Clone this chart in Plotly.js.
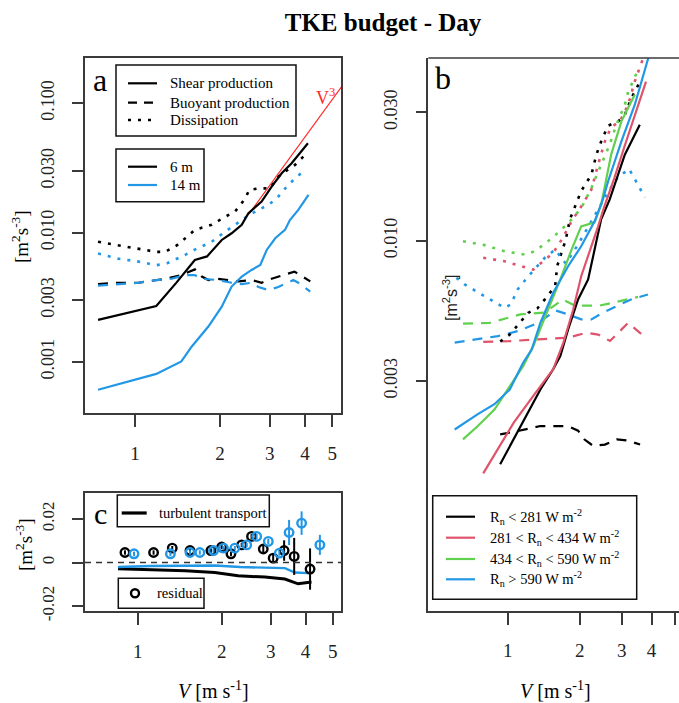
<!DOCTYPE html>
<html><head><meta charset="utf-8">
<script src="https://cdn.plot.ly/plotly-3.0.1.min.js"></script>
<style>html,body{margin:0;padding:0;background:#fff;overflow:hidden}</style>
</head><body><div id="chart" style="width:679px;height:703px"></div>
<script>
// ---------- Panel a : 6 m and 14 m budget terms ----------
const a_shear6_V  = [0.74,1.19,1.40,1.63,1.80,2.03,2.20,2.39,2.52,2.81,3.05,3.31,3.59,4.10];
const a_shear6    = [0.00212,0.00271,0.00409,0.00615,0.00655,0.00878,0.00989,0.0115,0.0141,0.0174,0.0227,0.0288,0.0344,0.0491];
const a_shear14_V = [0.74,1.19,1.46,1.59,1.82,2.03,2.20,2.39,2.59,2.78,2.93,3.14,3.40,3.54,3.79,4.12];
const a_shear14   = [0.00061,0.00081,0.00101,0.00132,0.00188,0.00268,0.00383,0.00457,0.00515,0.00563,0.00735,0.00905,0.0105,0.0125,0.0150,0.0196];
const a_buoy6_V   = [0.74,0.87,1.03,1.19,1.28,1.46,1.63,1.72,1.82,1.97,2.14,2.33,2.59,2.81,3.05,3.27,3.67,3.85,4.18];
const a_buoy6     = [0.0040,0.0041,0.0041,0.0043,0.0044,0.0047,0.0052,0.0046,0.0043,0.0044,0.0043,0.0042,0.0043,0.0041,0.0044,0.0046,0.0050,0.0047,0.0042];
const a_buoy14_V  = [0.74,0.87,1.03,1.19,1.35,1.50,1.63,1.72,1.97,2.20,2.39,2.59,2.74,2.97,3.22,3.64,3.79,4.18];
const a_buoy14    = [0.0039,0.0040,0.0041,0.0043,0.0044,0.0047,0.0047,0.0044,0.0043,0.0041,0.0040,0.0041,0.0038,0.0036,0.0038,0.0043,0.0041,0.0035];
const a_diss6_V   = [0.74,0.87,1.01,1.19,1.28,1.41,1.53,1.63,1.87,2.09,2.26,2.46,2.54,2.74,3.01,3.22,3.40,3.69,3.95];
const a_diss6     = [0.0085,0.0080,0.0076,0.0071,0.0071,0.0080,0.0093,0.0105,0.0115,0.0133,0.0145,0.0184,0.0214,0.0220,0.0220,0.0271,0.0296,0.0334,0.0387];
const a_diss14_V  = [0.74,0.87,1.02,1.19,1.30,1.50,1.63,1.87,2.09,2.26,2.49,2.74,2.97,3.18,3.45,3.69,3.90];
const a_diss14    = [0.0069,0.0063,0.0060,0.0056,0.0058,0.0067,0.0074,0.0085,0.0102,0.0115,0.0133,0.0150,0.0164,0.0184,0.0227,0.0263,0.0291];
const a_v3_V      = [2.52,5.40];
const a_v3        = [0.0137,0.1345];

// ---------- Panel b : net radiation classes (black, red, green, blue) ----------
const b_shear_V = [
  [0.93,1.13,1.37,1.55,1.66,1.79,1.97,2.17,2.31,2.46,2.67,2.80,3.09,3.57],
  [0.79,1.06,1.28,1.55,1.71,1.88,2.03,2.17,2.39,2.53,2.80,3.09,3.40,3.79],
  [0.65,0.75,0.88,1.00,1.16,1.28,1.46,1.66,1.85,2.03,2.31,2.46,2.71,2.99,3.40],
  [0.60,0.75,0.88,1.02,1.16,1.26,1.37,1.55,1.79,2.03,2.31,2.50,2.63,2.99,3.40,3.94]];
const b_shear = [
  [0.00147,0.00204,0.00279,0.00332,0.00372,0.00467,0.00604,0.00717,0.00926,0.0120,0.0142,0.0162,0.0209,0.0270],
  [0.00136,0.00210,0.00264,0.00332,0.00417,0.00554,0.00737,0.00875,0.0113,0.0133,0.0172,0.0226,0.0292,0.0391],
  [0.00182,0.00204,0.00235,0.00279,0.00341,0.00405,0.00539,0.00717,0.00926,0.0113,0.0117,0.0136,0.0209,0.0278,0.0349],
  [0.00198,0.00226,0.00246,0.00279,0.00351,0.00393,0.00494,0.00639,0.00803,0.00953,0.0118,0.0142,0.0166,0.0234,0.0320,0.0504]];
const b_buoy_V = [
  [0.93,1.09,1.37,1.79,1.97,2.09,2.28,2.55,2.86,3.19,3.58],
  [0.79,1.00,1.34,1.79,2.13,2.39,2.68,3.19,3.81],
  [0.65,0.84,1.13,1.43,1.70,1.91,2.43,2.95,3.51],
  [0.60,0.75,0.91,1.10,1.34,1.59,1.79,2.03,2.24,2.50,2.84,3.28,3.86]];
const b_buoy = [
  [0.00190,0.00195,0.00204,0.00204,0.00196,0.00182,0.00172,0.00174,0.00182,0.00180,0.00174],
  [0.00420,0.00422,0.00429,0.00435,0.00454,0.00447,0.00423,0.00494,0.00432],
  [0.00491,0.00494,0.00531,0.00540,0.00604,0.00573,0.00573,0.00595,0.00617],
  [0.00417,0.00429,0.00441,0.00460,0.00494,0.00549,0.00531,0.00509,0.00509,0.00539,0.00570,0.00604,0.00630]];
const b_diss_V = [
  [0.93,1.02,1.22,1.33,1.43,1.58,1.61,1.66,1.75,1.82,1.91,2.03,2.24,2.35,2.46,2.63,2.89,3.09,3.29,3.54],
  [0.79,0.97,1.14,1.28,1.38,1.55,1.70,1.85,2.03,2.24,2.39,2.55,2.71,2.94,3.19,3.40,3.69],
  [0.65,0.80,0.97,1.18,1.30,1.53,1.79,2.03,2.24,2.46,2.67,2.85,3.09,3.19,3.51],
  [0.61,0.66,0.80,0.97,1.03,1.10,1.22,1.43,1.58,1.75,1.97,2.21,2.43,2.63,2.89,3.22,3.46,3.75]];
const b_diss = [
  [0.00421,0.00447,0.00539,0.00559,0.00604,0.00677,0.00803,0.00875,0.01009,0.0120,0.0133,0.0153,0.0176,0.0209,0.0234,0.0268,0.0277,0.0294,0.0339,0.0384],
  [0.00863,0.00838,0.00803,0.00780,0.00826,0.00900,0.01024,0.0118,0.0134,0.0155,0.0192,0.0234,0.0265,0.0277,0.0320,0.0391,0.0479],
  [0.00994,0.00962,0.00913,0.00887,0.00913,0.0102,0.0116,0.0132,0.0157,0.0192,0.0228,0.0270,0.0320,0.0358,0.0432],
  [0.00727,0.00687,0.00621,0.00562,0.00578,0.00658,0.00737,0.00863,0.00926,0.00822,0.00967,0.0115,0.0134,0.0152,0.0172,0.0185,0.0165,0.0145]];
const b_labels = ['R<sub>n</sub> &lt; 281 W m<sup>-2</sup>','281 &lt; R<sub>n</sub> &lt; 434 W m<sup>-2</sup>','434 &lt; R<sub>n</sub> &lt; 590 W m<sup>-2</sup>','R<sub>n</sub> &gt; 590 W m<sup>-2</sup>'];

// ---------- Panel c : turbulent transport and residual ----------
const c_trans6_V  = [0.85,1.22,1.48,1.89,2.29,2.86,3.37,3.76,4.20];
const c_trans6    = [-0.0029,-0.0034,-0.0038,-0.0046,-0.0061,-0.0067,-0.0076,-0.0098,-0.0090];
const c_trans14_V = [0.85,1.11,1.89,2.33,3.37,3.66,4.09];
const c_trans14   = [-0.0021,-0.0016,-0.0014,-0.0021,-0.0026,-0.0046,-0.0049];
const c_res6_V    = [0.90,1.14,1.33,1.54,1.83,2.00,2.16,2.36,2.56,2.82,3.06,3.35,3.64,4.15];
const c_res6      = [0.0046,0.0046,0.0066,0.0055,0.0055,0.0071,0.0040,0.0081,0.0120,0.0062,0.0020,0.0055,0.0028,-0.0030];
const c_res6_err  = [0.001,0.001,0.001,0.001,0.001,0.001,0.001,0.001,0.0012,0.0015,0.002,0.0047,0.0085,0.0095];
const c_res14_V   = [0.97,1.31,1.54,1.67,1.87,2.03,2.23,2.46,2.67,2.94,3.22,3.49,3.87,4.50];
const c_res14     = [0.0040,0.0040,0.0046,0.0046,0.0055,0.0066,0.0066,0.0081,0.0120,0.0097,0.0043,0.0138,0.0181,0.0081];
const c_res14_err = [0.001,0.001,0.001,0.001,0.001,0.001,0.001,0.001,0.0012,0.0012,0.0012,0.0058,0.0054,0.0046];

// ---------- styling ----------
const W=679, H=703;
const PX = x => x/W, PY = y => 1 - y/H;
const BLACK='#000000', RED='#DF536B', GREEN='#61D04F', BLUE='#2297E6';
const COLS=[BLACK,RED,GREEN,BLUE];
const DOT='3px,7px', DASH='10px,8px';
const SERIF='"Liberation Serif","Times New Roman",serif';
const SANS='"Liberation Sans",Arial,sans-serif';
const AX='#3a3a3a';

function ln(x,y,color,dash,xa,ya,width){
  return {type:'scatter',mode:'lines',x:x,y:y,xaxis:xa,yaxis:ya,
    line:{color:color,dash:dash,width:width||2.2},hoverinfo:'skip',showlegend:false};
}

const traces=[];
// panel a
traces.push(ln(a_buoy6_V,a_buoy6,BLACK,DASH,'x','y'));
traces.push(ln(a_buoy14_V,a_buoy14,BLUE,DASH,'x','y'));
traces.push(ln(a_diss6_V,a_diss6,BLACK,DOT,'x','y',2.6));
traces.push(ln(a_diss14_V,a_diss14,BLUE,DOT,'x','y',2.6));
traces.push(ln(a_v3_V,a_v3,'#ff2a2a','solid','x','y',1.2));
traces.push(ln(a_shear6_V,a_shear6,BLACK,'solid','x','y'));
traces.push(ln(a_shear14_V,a_shear14,BLUE,'solid','x','y'));
// panel b
for(let i=0;i<4;i++) traces.push(ln(b_buoy_V[i],b_buoy[i],COLS[i],DASH,'x2','y2'));
for(let i=0;i<4;i++) traces.push(ln(b_diss_V[i],b_diss[i],COLS[i],DOT,'x2','y2',2.6));
for(let i=0;i<4;i++) traces.push(ln(b_shear_V[i],b_shear[i],COLS[i],'solid','x2','y2'));
// panel c
traces.push(ln(c_trans6_V,c_trans6,BLACK,'solid','x3','y3',3));
traces.push(ln(c_trans14_V,c_trans14,BLUE,'solid','x3','y3',2.4));
function pts(x,y,err,color){
  return {type:'scatter',mode:'markers',x:x,y:y,xaxis:'x3',yaxis:'y3',hoverinfo:'skip',showlegend:false,
    marker:{symbol:'circle-open',size:8.5,color:color,line:{width:2.4,color:color}},
    error_y:{type:'data',array:err,visible:true,color:color,thickness:2,width:0}};
}
traces.push(pts(c_res6_V,c_res6,c_res6_err,BLACK));
traces.push(pts(c_res14_V,c_res14,c_res14_err,BLUE));

const axBase = {showgrid:false, zeroline:false, showline:true, linecolor:AX, linewidth:1.6,
  ticks:'outside', ticklen:12, tickwidth:1.6, tickcolor:AX,
  tickfont:{family:SERIF,size:19,color:'#222'}, ticklabelstandoff:10, fixedrange:true};
const yBase = Object.assign({}, axBase, {ticklen:11, tickangle:-90, tickfont:{family:SERIF,size:18,color:'#222'}, ticklabelstandoff:11});

const layout = {
  width:W, height:H, margin:{l:0,r:0,t:0,b:0}, paper_bgcolor:'#fff', plot_bgcolor:'#fff', showlegend:false,
  title:{text:'<b>TKE budget - Day</b>', font:{family:SERIF,size:25,color:'#000'}, x:PX(383), xanchor:'center', y:PY(22), yanchor:'middle'},
  xaxis: Object.assign({}, axBase, {type:'log', domain:[PX(85),PX(341)], range:[-0.177,0.730], anchor:'y', mirror:true,
    tickvals:[1,2,3,4,5], ticktext:['1','2','3','4','5']}),
  yaxis: Object.assign({}, yBase, {type:'log', domain:[PY(413),PY(58)], range:[-3.394,-0.65], anchor:'x', mirror:true,
    tickvals:[0.001,0.003,0.01,0.03,0.1], ticktext:['0.001','0.003','0.010','0.030','0.100']}),
  xaxis2: Object.assign({}, axBase, {type:'log', domain:[PX(428.3),1], range:[-0.3322,0.7167], anchor:'y2', mirror:false,
    tickvals:[1,2,3,4,5], ticktext:['1','2','3','4','']}),
  yaxis2: Object.assign({}, yBase, {type:'log', domain:[PY(610.7),PY(58)], range:[-3.378,-1.320], anchor:'x2', mirror:false,
    tickvals:[0.003,0.01,0.03], ticktext:['0.003','0.010','0.030']}),
  xaxis3: Object.assign({}, axBase, {type:'log', domain:[PX(85),PX(341)], range:[-0.189,0.729], anchor:'y3', mirror:true,
    tickvals:[1,2,3,4,5], ticktext:['1','2','3','4','5']}),
  yaxis3: Object.assign({}, yBase, {type:'linear', domain:[PY(611),PY(492.7)], range:[-0.0223,0.0321], anchor:'x3', mirror:true,
    tickvals:[-0.02,0,0.02], ticktext:['-0.02','0','0.02'], tickfont:{family:SERIF,size:17,color:'#222'}}),
  shapes:[], annotations:[]
};

const S=layout.shapes, A=layout.annotations;
// top border of panel b (its right side is outside the picture)
S.push({type:'line',xref:'paper',yref:'paper',x0:PX(428.3),x1:1,y0:PY(58),y1:PY(58),line:{color:AX,width:1.6}});
// zero line in panel c
S.push({type:'line',xref:'x3 domain',yref:'y3',x0:0,x1:1,y0:0,y1:0,line:{color:'#333',width:1.5,dash:'6px,5px'}});

function box(x0,y0,x1,y1){ S.push({type:'rect',xref:'paper',yref:'paper',x0:PX(x0),x1:PX(x1),y0:PY(y1),y1:PY(y0),line:{color:'#111',width:1.5},fillcolor:'rgba(255,255,255,0)'}); }
function sample(x0,x1,y,color,dash,w){ S.push({type:'line',xref:'paper',yref:'paper',x0:PX(x0),x1:PX(x1),y0:PY(y),y1:PY(y),line:{color:color,dash:dash,width:w||2.2}}); }
function txt(x,y,text,size,opts){ A.push(Object.assign({xref:'paper',yref:'paper',x:PX(x),y:PY(y),text:text,showarrow:false,xanchor:'left',yanchor:'middle',
  font:{family:SERIF,size:size,color:'#000'}},opts||{})); }

// panel a legends
box(116,65,296,136);
sample(128,157,83.3,BLACK,'solid'); sample(128,157,102.7,BLACK,'9px,7px'); sample(128,157,120,BLACK,DOT,2.6);
txt(168,83.3,'Shear production',15); txt(168,102.7,'Buoyant production',15); txt(168,120,'Dissipation',15);
box(116,149,204,201.7);
sample(128,157,166.7,BLACK,'solid'); sample(128,157,185,BLUE,'solid');
txt(168,166.7,'6 m',15); txt(168,185,'14 m',15);
txt(325,97,'V<sup>3</sup>',18,{xanchor:'center',font:{family:SERIF,size:18,color:'#ff2a2a'}});

// panel c legends
box(117.3,495,269.3,526.7);
sample(121.7,146.7,513,BLACK,'solid',3.2);
txt(156.7,513,'turbulent transport',14.5);
box(118.3,578.3,204,608.3);
S.push({type:'circle',xref:'paper',yref:'paper',x0:PX(131),x1:PX(139),y0:PY(597.3),y1:PY(589.3),line:{color:BLACK,width:2.4}});
txt(155,593.3,'residual',14.5);

// panel b legend
box(432.7,495.7,636.7,599.3);
const rows=[516.7,537.7,559,579.3];
for(let i=0;i<4;i++){ sample(446,475,rows[i],COLS[i],'solid'); txt(488,rows[i],b_labels[i],14.5); }

// panel letters
txt(100,80,'a',32,{xanchor:'center'});
txt(443,78,'b',32,{xanchor:'center'});
txt(100,513,'c',30,{xanchor:'center'});

// axis titles
const yt='[m<sup>2</sup>s<sup>-3</sup>]';
txt(20,237,yt,19,{xanchor:'center',textangle:-90});
txt(24,545,yt,19,{xanchor:'center',textangle:-90});
A.push({xref:'paper',yref:'paper',x:PX(450),y:PY(298),text:yt,showarrow:false,xanchor:'center',yanchor:'middle',textangle:-90,font:{family:SANS,size:16,color:'#222'}});
txt(213,690,'<i>V</i> [m s<sup>-1</sup>]',20,{xanchor:'center'});
txt(555,690,'<i>V</i> [m s<sup>-1</sup>]',20,{xanchor:'center'});

Plotly.newPlot('chart', traces, layout, {displayModeBar:false});
</script></body></html>
